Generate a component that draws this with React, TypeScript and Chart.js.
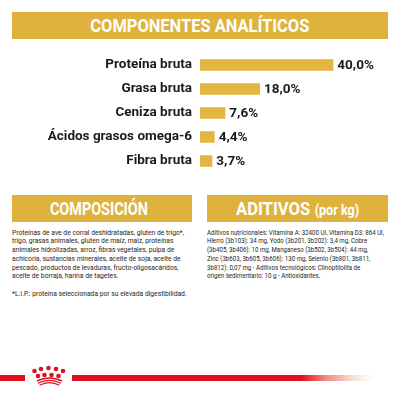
import React, { useEffect, useLayoutEffect, useRef, useState } from "react";
import { Chart, registerables } from "chart.js";

Chart.register(...registerables);

const categories = ["Proteína bruta", "Grasa bruta", "Ceniza bruta", "Ácidos grasos omega-6", "Fibra bruta"];
const values = [40.0, 18.0, 7.6, 4.4, 3.7];
const valueLabels = ["40,0%", "18,0%", "7,6%", "4,4%", "3,7%"];

const titleMain = "COMPONENTES ANALÍTICOS";
const titleComp = "COMPOSICIÓN";
const titleAdit = "ADITIVOS";
const titleAditSub = "(por kg)";

const compLines = [
  "Proteínas de ave de corral deshidratadas, gluten de trigo*,",
  "trigo, grasas animales, gluten de maíz, maíz, proteínas",
  "animales hidrolizadas, arroz, fibras vegetales, pulpa de",
  "achicoria, sustancias minerales, aceite de soja, aceite de",
  "pescado, productos de levaduras, fructo-oligosacáridos,",
  "aceite de borraja, harina de tagetes.",
  "",
  "*L.I.P.: proteína seleccionada por su elevada digestibilidad.",
];

const aditLines = [
  "Aditivos nutricionales: Vitamina A: 32400 UI, Vitamina D3: 864 UI,",
  "Hierro (3b103): 34 mg, Yodo (3b201, 3b202): 3,4 mg, Cobre",
  "(3b405, 3b406): 10 mg, Manganeso (3b502, 3b504): 44 mg,",
  "Zinc (3b603, 3b605, 3b606): 130 mg, Selenio (3b801, 3b811,",
  "3b812): 0,07 mg - Aditivos tecnológicos: Clinoptilolita de",
  "origen sedimentario: 10 g - Antioxidantes.",
];

const GOLD = "#DFB23D";
const BAR = "#E3B541";
const RED = "#E0101E";
const FONT = "Roboto, 'Noto Sans', sans-serif";

function BarChart() {
  const ref = useRef<HTMLCanvasElement>(null);
  useEffect(() => {
    if (!ref.current) return;
    const labelPlugin = {
      id: "valueLabels",
      afterDatasetsDraw(chart: any) {
        const ctx = chart.ctx;
        const meta = chart.getDatasetMeta(0);
        ctx.save();
        ctx.font = `bold 13.5px ${FONT}`;
        ctx.fillStyle = "#1a1a1a";
        ctx.textAlign = "left";
        ctx.textBaseline = "middle";
        meta.data.forEach((el: any, i: number) => {
          ctx.fillText(valueLabels[i], el.x + 4, el.y + 0.5);
        });
        ctx.restore();
      },
    };
    const chart = new Chart(ref.current, {
      type: "bar",
      data: {
        labels: categories,
        datasets: [{ data: values, backgroundColor: BAR, borderWidth: 0, categoryPercentage: 1, barPercentage: 0.48 }],
      },
      options: {
        indexAxis: "y",
        animation: false,
        responsive: true,
        maintainAspectRatio: false,
        layout: { padding: 0 },
        plugins: { legend: { display: false }, tooltip: { enabled: false } },
        scales: {
          x: { display: false, min: 0, max: 60 },
          y: {
            grid: { display: false, drawTicks: false },
            border: { display: false },
            ticks: { padding: 8, color: "#1a1a1a", font: { family: FONT, size: 13.5, weight: "bold" } },
            afterFit(scale: any) {
              scale.width = 200;
              scale.paddingTop = 0;
              scale.paddingBottom = 0;
            },
          },
        },
      },
      plugins: [labelPlugin],
    });
    return () => chart.destroy();
  }, []);
  return (
    <div style={{ position: "absolute", left: 0, top: 53, width: 400, height: 120 }}>
      <canvas ref={ref} />
    </div>
  );
}

function FitSpan({ target, children, style }: { target: number; children: React.ReactNode; style?: React.CSSProperties }) {
  const ref = useRef<HTMLSpanElement>(null);
  const [s, setS] = useState(1);
  useLayoutEffect(() => {
    if (ref.current) {
      const w = ref.current.getBoundingClientRect().width;
      if (w) setS(target / w);
    }
  }, [target]);
  return (
    <span ref={ref} style={{ display: "inline-block", transform: `scaleX(${s})`, transformOrigin: "center", whiteSpace: "nowrap", ...style }}>
      {children}
    </span>
  );
}

function TextBlock({ lines, target, left, top }: { lines: string[]; target: number; left: number; top: number }) {
  const ref = useRef<HTMLSpanElement>(null);
  const [s, setS] = useState(1);
  useLayoutEffect(() => {
    if (ref.current) {
      const w = ref.current.getBoundingClientRect().width;
      if (w) setS(target / w);
    }
  }, [target]);
  return (
    <div
      style={{
        position: "absolute",
        left,
        top,
        fontFamily: FONT,
        fontSize: 7.4,
        lineHeight: "8.8px",
        color: "#1e1e1e",
        whiteSpace: "nowrap",
        transform: `scaleX(${s})`,
        transformOrigin: "left top",
      }}
    >
      {lines.map((l, i) => (
        <div key={i} style={{ height: 8.8 }}>
          <span ref={i === 0 ? ref : undefined}>{l}</span>
        </div>
      ))}
    </div>
  );
}

function Crown() {
  const top = [
    [34.5, 371],
    [41, 369],
    [48.5, 368],
    [56, 369],
    [63, 371],
  ];
  const second = [
    [38, 376],
    [44.5, 375],
    [51.5, 375],
    [58.5, 376],
  ];
  return (
    <svg width={400} height={400} style={{ position: "absolute", left: 0, top: 0 }}>
      {top.map(([x, y], i) => (
        <circle key={"t" + i} cx={x} cy={y} r={2.3} fill={RED} />
      ))}
      {second.map(([x, y], i) => (
        <circle key={"s" + i} cx={x} cy={y} r={2.3} fill={RED} />
      ))}
      <path d="M37 381 Q49.5 375 62 381" stroke={RED} strokeWidth={1.4} fill="none" />
      <path d="M38 383.2 Q49.5 377.5 61 383.2" stroke={RED} strokeWidth={1.2} fill="none" />
      <path d="M39.5 385.2 Q49.5 380 59.5 385.2" stroke={RED} strokeWidth={1.1} fill="none" />
    </svg>
  );
}

const headerStyle: React.CSSProperties = {
  position: "absolute",
  background: GOLD,
  color: "#fff",
  fontFamily: FONT,
  fontWeight: "bold",
  display: "flex",
  alignItems: "center",
  justifyContent: "center",
  whiteSpace: "nowrap",
};

export default function App() {
  return (
    <div style={{ position: "absolute", left: 0, top: 0, width: 400, height: 400, background: "#fff", overflow: "hidden" }}>
      <div style={{ ...headerStyle, left: 12, top: 12, width: 376, height: 27, fontSize: 18 }}>
        <FitSpan target={219}>{titleMain}</FitSpan>
      </div>
      <BarChart />
      <div style={{ ...headerStyle, left: 12, top: 195, width: 180, height: 27, fontSize: 18.5 }}>
        <FitSpan target={98} style={{ marginLeft: -6 }}>{titleComp}</FitSpan>
      </div>
      <div style={{ ...headerStyle, left: 207, top: 195, width: 181, height: 27, fontSize: 18.5 }}>
        <FitSpan target={123}>
          {titleAdit}
          <span style={{ fontSize: 14, marginLeft: 5 }}>{titleAditSub}</span>
        </FitSpan>
      </div>
      <TextBlock lines={compLines} target={172} left={12} top={228.5} />
      <TextBlock lines={aditLines} target={177} left={207} top={228.5} />
      <div style={{ position: "absolute", left: 0, top: 375, width: 25, height: 6, background: RED }} />
      <div
        style={{
          position: "absolute",
          left: 72,
          top: 375,
          width: 302,
          height: 6,
          background: `linear-gradient(to right, ${RED} 0%, ${RED} 76%, rgba(230,60,50,0.6) 84%, rgba(240,150,130,0.25) 94%, rgba(255,255,255,0) 100%)`,
        }}
      />
      <Crown />
    </div>
  );
}
